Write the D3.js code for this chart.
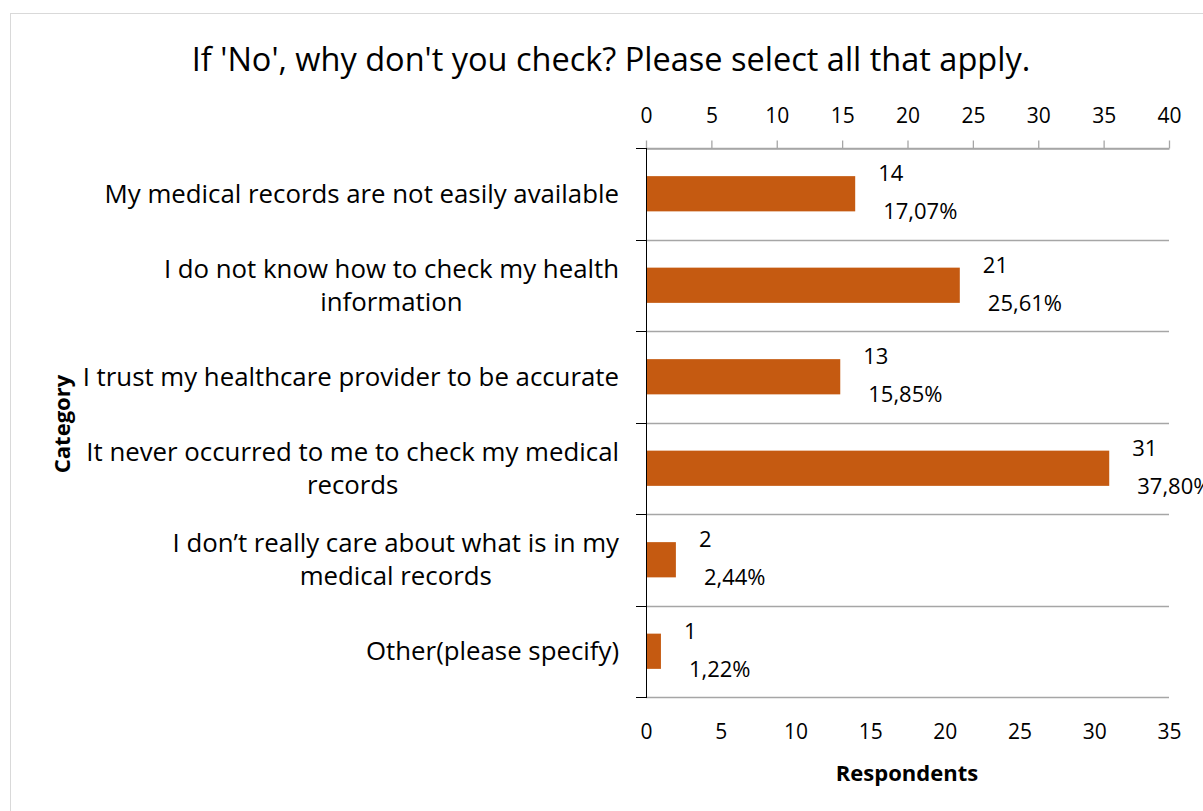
<!DOCTYPE html>
<html>
<head>
<meta charset="utf-8">
<script src="https://cdn.jsdelivr.net/npm/d3@7"></script>
<style>
  html, body { margin: 0; padding: 0; background: #fff; }
  svg { display: block; font-family: "Open Sans", Lato, sans-serif; }
</style>
</head>
<body>
<svg id="chart" width="1203" height="811"></svg>
<script>
// Survey answers, top to bottom
const categories = [
  ["My medical records are not easily available"],
  ["I do not know how to check my health", "information"],
  ["I trust my healthcare provider to be accurate"],
  ["It never occurred to me to check my medical", "records"],
  ["I don\u2019t really care about what is in my", "medical records"],
  ["Other(please specify)"]
];
const respondents = [14, 21, 13, 31, 2, 1];
const percentages = [17.07, 25.61, 15.85, 37.80, 2.44, 1.22];
const respondentTicks = [0, 5, 10, 15, 20, 25, 30, 35];
const percentTicks = [0, 5, 10, 15, 20, 25, 30, 35, 40];

const title = "If 'No', why don't you check? Please select all that apply.";

const svg = d3.select("#chart");
const W = 1203, H = 811;
const plot = { left: 646, right: 1169, top: 148, bottom: 697 };
const barColor = "#C55A11";
const gridColor = "#a6a6a6";
const font = "'Open Sans', Lato, sans-serif";

// chart frame
svg.append("rect")
  .attr("x", 10.5).attr("y", 13.5)
  .attr("width", W).attr("height", H)
  .attr("fill", "#fff").attr("stroke", "#d9d9d9").attr("stroke-width", 1);

const keys = categories.map((c, i) => i);
const y = d3.scaleBand().domain(keys).range([plot.top, plot.bottom]).padding(0);
const xResp = d3.scaleLinear().domain([0, 35]).range([plot.left, plot.right]);
const xPct = d3.scaleLinear().domain([0, 40]).range([plot.left, plot.right]);

// title
svg.append("text")
  .attr("x", 611).attr("y", 60).attr("dy", "0.35em")
  .attr("text-anchor", "middle")
  .attr("font-size", 32.5).attr("fill", "#000")
  .text(title);

// horizontal separators between categories
const bounds = keys.map(k => y(k)).concat([plot.bottom]);
svg.append("g").selectAll("line").data(bounds).join("line")
  .attr("x1", plot.left).attr("x2", plot.right)
  .attr("y1", d => Math.round(d) + 0.5).attr("y2", d => Math.round(d) + 0.5)
  .attr("stroke", gridColor).attr("stroke-width", 1.3);

// small category ticks left of the axis
svg.append("g").selectAll("line").data(bounds).join("line")
  .attr("x1", plot.left - 10).attr("x2", plot.left)
  .attr("y1", d => Math.round(d) + 0.5).attr("y2", d => Math.round(d) + 0.5)
  .attr("stroke", "#000").attr("stroke-width", 1);

// top percentage axis
const topAxis = svg.append("g")
  .attr("transform", `translate(0,${Math.round(plot.top) + 0.5})`)
  .call(d3.axisTop(xPct).tickValues(percentTicks).tickSize(8).tickSizeOuter(0).tickPadding(0));
topAxis.select(".domain").attr("stroke", gridColor).attr("stroke-width", 1.3);
topAxis.selectAll(".tick line").attr("stroke", gridColor).attr("stroke-width", 1.3);
topAxis.selectAll(".tick text")
  .attr("y", -33).attr("dy", "0.35em")
  .attr("font-size", 21).attr("font-family", font).attr("fill", "#000");

// bottom respondents axis
const bottomAxis = svg.append("g")
  .attr("transform", `translate(0,${plot.bottom})`)
  .call(d3.axisBottom(xResp).tickValues(respondentTicks).tickSize(0).tickPadding(0));
bottomAxis.select(".domain").remove();
bottomAxis.selectAll(".tick text")
  .attr("y", 35).attr("dy", "0.35em")
  .attr("font-size", 21).attr("font-family", font).attr("fill", "#000");

// bars
const barH = y.bandwidth() * 0.385;
svg.append("g").selectAll("rect").data(keys).join("rect")
  .attr("x", xResp(0))
  .attr("y", k => y(k) + y.bandwidth() / 2 - barH / 2)
  .attr("width", k => xResp(respondents[k]) - xResp(0))
  .attr("height", barH)
  .attr("fill", barColor);

// vertical category axis line
svg.append("line")
  .attr("x1", plot.left + 0.5).attr("x2", plot.left + 0.5)
  .attr("y1", plot.top).attr("y2", plot.bottom + 1)
  .attr("stroke", "#000").attr("stroke-width", 1);

// value labels: count above, share below
const fmtPct = v => v.toFixed(2).replace(".", ",") + "%";
const labels = svg.append("g").attr("font-size", 22).attr("fill", "#000");
keys.forEach(k => {
  const cx = y(k) + y.bandwidth() / 2;
  const xe = xResp(respondents[k]);
  labels.append("text")
    .attr("x", xe + 23).attr("y", cx - 20).attr("dy", "0.35em")
    .text(respondents[k]);
  labels.append("text")
    .attr("x", xe + 28).attr("y", cx + 18).attr("dy", "0.35em")
    .text(fmtPct(percentages[k]));
});

// category labels, centred lines right-aligned as a block
const catFont = 25.8;
const catG = svg.append("g").attr("font-size", catFont).attr("fill", "#000");
keys.forEach(k => {
  const lines = categories[k];
  const cx = y(k) + y.bandwidth() / 2;
  const lh = 33;
  const g = catG.append("g");
  const texts = lines.map((ln, i) => g.append("text")
    .attr("y", cx + (i - (lines.length - 1) / 2) * lh)
    .attr("dy", "0.35em")
    .attr("text-anchor", "middle")
    .text(ln));
  const widths = texts.map(t => t.node().getComputedTextLength());
  const maxW = Math.max(...widths);
  texts.forEach(t => t.attr("x", 619 - maxW / 2));
});

// axis titles
svg.append("text")
  .attr("transform", "translate(62,424) rotate(-90)")
  .attr("dy", "0.35em").attr("text-anchor", "middle")
  .attr("font-size", 22).attr("font-weight", "bold").attr("fill", "#000")
  .text("Category");
svg.append("text")
  .attr("x", 907).attr("y", 773).attr("dy", "0.35em")
  .attr("text-anchor", "middle")
  .attr("font-size", 22).attr("font-weight", "bold").attr("fill", "#000")
  .text("Respondents");
</script>
</body>
</html>
